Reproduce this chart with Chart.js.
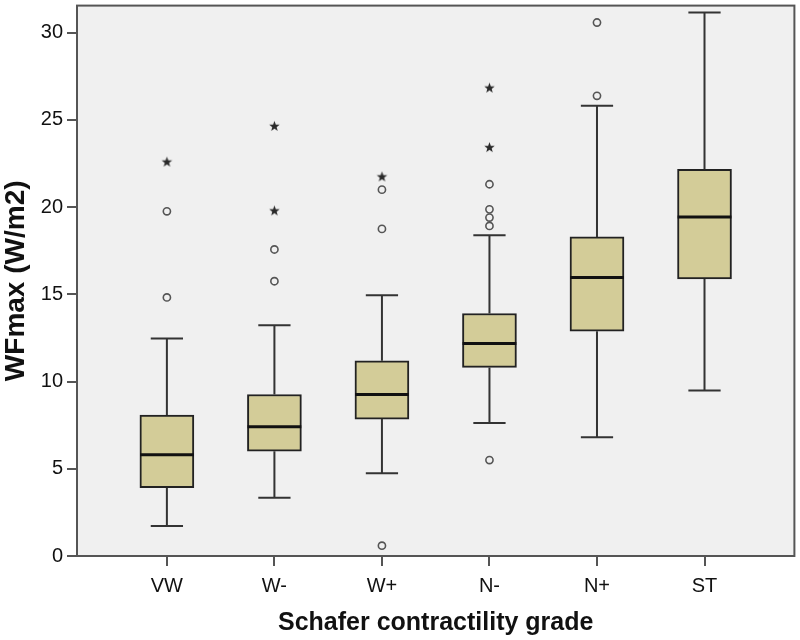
<!DOCTYPE html>
<html>
<head>
<meta charset="utf-8">
<script src="https://cdn.jsdelivr.net/npm/chart.js@4.4.0/dist/chart.umd.min.js"></script>
<style>
  html, body { margin: 0; padding: 0; background: #fff; }
  #wrap { width: 800px; height: 640px; }
</style>
</head>
<body>
<div id="wrap"><canvas id="myChart" width="800" height="640"></canvas></div>
<script>
var grades = ['VW', 'W-', 'W+', 'N-', 'N+', 'ST'];
var whiskerLow  = [1.72, 3.34, 4.74, 7.62, 6.80, 9.49];
var q1          = [3.91, 6.01, 7.85, 10.81, 12.89, 15.88];
var median      = [5.80, 7.41, 9.26, 12.18, 15.96, 19.43];
var q3          = [8.08, 9.26, 11.19, 13.90, 18.29, 22.17];
var whiskerHigh = [12.47, 13.23, 14.95, 18.38, 25.81, 31.16];
// outliers (o) and extremes (*)
var circleOut = [[14.82, 19.76], [15.75, 17.57], [0.59, 18.75, 21.0], [5.50, 18.92, 19.40, 19.87, 21.31], [26.38, 30.58], []];
var starOut   = [[22.58], [19.78, 24.63], [21.73], [23.41, 26.82], [], []];
var yTicks = [0, 5, 10, 15, 20, 25, 30];

var ctx = document.getElementById('myChart').getContext('2d');

function flat(list) {
  var out = [];
  list.forEach(function(vals, i) {
    vals.forEach(function(v) { out.push({x: i, y: v}); });
  });
  return out;
}

// filled five point star like SPSS extremes
function makeStar(r) {
  var c = document.createElement('canvas');
  c.width = c.height = 2 * r + 2;
  var g = c.getContext('2d');
  var cx = r + 1, cy = r + 1;
  g.beginPath();
  for (var i = 0; i < 10; i++) {
    var rad = i % 2 ? r * 0.42 : r;
    var a = -Math.PI / 2 + i * Math.PI / 5;
    g.lineTo(cx + rad * Math.cos(a), cy + rad * Math.sin(a));
  }
  g.closePath();
  g.fillStyle = '#2a2a2a';
  g.fill();
  return c;
}

var frame = {
  id: 'frame',
  beforeDraw: function(chart) {
    var c = chart.ctx, a = chart.chartArea;
    c.save();
    c.fillStyle = '#fff';
    c.fillRect(0, 0, chart.width, chart.height);
    c.fillStyle = '#f0f0f0';
    c.fillRect(a.left, a.top, a.right - a.left, a.bottom - a.top);
    c.restore();
  },
  afterDatasetsDraw: function(chart) {
    var c = chart.ctx, xs = chart.scales.x, ys = chart.scales.y;
    c.save();
    grades.forEach(function(g, i) {
      var x = xs.getPixelForValue(i);
      var cap = xs.getPixelForValue(i + 0.15) - x;
      var half = xs.getPixelForValue(i + 0.25) - x;
      c.strokeStyle = '#333';
      c.lineWidth = 2;
      c.beginPath();
      c.moveTo(x, ys.getPixelForValue(whiskerLow[i]));
      c.lineTo(x, ys.getPixelForValue(q1[i]));
      c.moveTo(x, ys.getPixelForValue(q3[i]));
      c.lineTo(x, ys.getPixelForValue(whiskerHigh[i]));
      c.moveTo(x - cap, ys.getPixelForValue(whiskerLow[i]));
      c.lineTo(x + cap, ys.getPixelForValue(whiskerLow[i]));
      c.moveTo(x - cap, ys.getPixelForValue(whiskerHigh[i]));
      c.lineTo(x + cap, ys.getPixelForValue(whiskerHigh[i]));
      c.stroke();
      c.strokeStyle = '#111';
      c.lineWidth = 3;
      c.beginPath();
      c.moveTo(x - half, ys.getPixelForValue(median[i]));
      c.lineTo(x + half, ys.getPixelForValue(median[i]));
      c.stroke();
    });
    c.restore();
  },
  afterDraw: function(chart) {
    var c = chart.ctx, a = chart.chartArea;
    c.save();
    c.strokeStyle = '#555';
    c.lineWidth = 2;
    c.strokeRect(a.left, a.top, a.right - a.left, a.bottom - a.top);
    c.restore();
  }
};

new Chart(ctx, {
  type: 'bar',
  data: {
    datasets: [{
      type: 'bar',
      data: grades.map(function(g, i) { return {x: i, y: [q1[i], q3[i]]}; }),
      backgroundColor: '#d3cc98',
      borderColor: '#222',
      borderWidth: 2,
      borderSkipped: false,
      barThickness: 54,
      order: 3
    }, {
      type: 'scatter',
      data: flat(circleOut),
      pointStyle: 'circle',
      pointRadius: 3.6,
      backgroundColor: 'rgba(0,0,0,0)',
      borderColor: '#555',
      borderWidth: 1.6,
      order: 1
    }, {
      type: 'scatter',
      data: flat(starOut),
      pointStyle: makeStar(5.5),
      order: 1
    }]
  },
  options: {
    responsive: false,
    animation: false,
    layout: { padding: { top: 5, right: 5, left: 0, bottom: 0 } },
    plugins: {
      legend: { display: false },
      tooltip: { enabled: false }
    },
    scales: {
      x: {
        type: 'linear',
        offset: false,
        min: -0.836,
        max: 5.836,
        afterBuildTicks: function(s) {
          s.ticks = grades.map(function(g, i) { return {value: i}; });
        },
        afterFit: function(s) { s.height = 84; s.paddingLeft = 0; s.paddingRight = 0; },
        ticks: {
          callback: function(v) { return grades[v]; },
          color: '#111',
          padding: 8,
          maxRotation: 0,
          font: { family: 'Liberation Sans, Arial, sans-serif', size: 20 }
        },
        grid: { display: true, offset: false, drawOnChartArea: false, drawTicks: true, tickLength: 10, color: '#555', lineWidth: 2 },
        border: { display: true, color: '#555', width: 2 },
        title: {
          display: true,
          text: 'Schafer contractility grade',
          color: '#111',
          padding: { top: 4, bottom: 2 },
          font: { family: 'Liberation Sans, Arial, sans-serif', size: 25, weight: 'bold' }
        }
      },
      y: {
        min: 0,
        max: 31.55,
        afterBuildTicks: function(s) {
          s.ticks = yTicks.map(function(v) { return {value: v}; });
        },
        afterFit: function(s) { s.width = 77; s.paddingTop = 0; s.paddingBottom = 0; },
        ticks: {
          color: '#111',
          padding: 4,
          font: { family: 'Liberation Sans, Arial, sans-serif', size: 20 }
        },
        grid: { display: true, drawOnChartArea: false, drawTicks: true, tickLength: 10, color: '#555', lineWidth: 2 },
        border: { display: true, color: '#555', width: 2 },
        title: {
          display: true,
          text: 'WFmax (W/m2)',
          color: '#111',
          padding: { top: -1, bottom: 0 },
          font: { family: 'Liberation Sans, Arial, sans-serif', size: 28, weight: 'bold' }
        }
      }
    }
  },
  plugins: [frame]
});
</script>
</body>
</html>
